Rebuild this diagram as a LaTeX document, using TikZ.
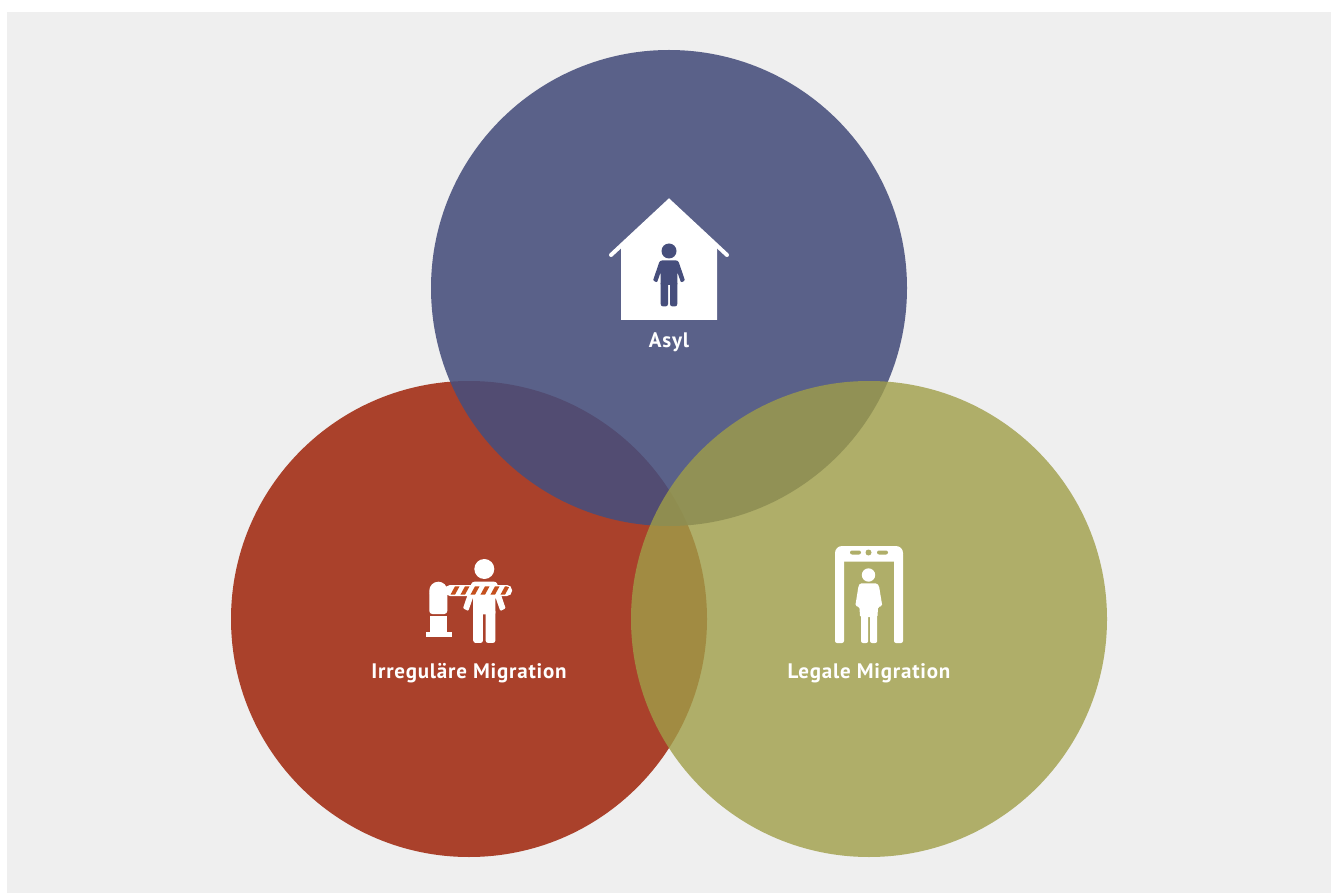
\documentclass[tikz,border=0pt]{standalone}
\usepackage{fontspec}
\setmainfont{PT Sans}[LetterSpace=3.8]
\definecolor{pagegray}{HTML}{EFEFEF}
\definecolor{asylblue}{HTML}{464E7C}
\definecolor{irregred}{HTML}{AA412B}
\definecolor{legalolive}{HTML}{9F9E48}
\definecolor{gatehole}{HTML}{AFAE69}
\definecolor{beamstripe}{HTML}{C44F1D}
\tikzset{
    circlelabel/.style = {text = white, inner sep = 0pt, anchor = base, font = \fontsize{21}{24}\selectfont\bfseries},
    personicon/.pic = {
        \fill (0,0) circle [radius = 7.5];
        \fill [rounded corners = 1pt] (-8,9.5) -- (8,9.5) -- (9.5,10.5) -- (16,29.5) -- (12,31.5) -- (8.3,21)
            -- (8.3,34) -- (-8.3,34) -- (-8.3,21) -- (-12,31.5) -- (-16,29.5) -- (-9.5,10.5) -- cycle;
        \fill [rounded corners = 2.5pt] (-8.3,30) -- (-1,30) -- (-1,55.5) -- (-8.3,55.5) -- cycle;
        \fill [rounded corners = 2.5pt] (1,30) -- (8.3,30) -- (8.3,55.5) -- (1,55.5) -- cycle;
    }
}

\begin{document}
\begin{tikzpicture}[x = 1pt, y = -1pt]
        \useasboundingbox (0,0) rectangle (1334,893);
        \fill [pagegray] (7,12) rectangle (1331,893);
        \fill [irregred] (469,619) circle [radius = 238];
        \fill [asylblue, fill opacity = 0.88] (669,288) circle [radius = 238];
        \fill [legalolive, fill opacity = 0.8] (869,619) circle [radius = 238];

        % house
        \fill [white] (621,245) -- (669,201) -- (717,245) -- (717,320) -- (621,320) -- cycle;
        \draw [white, line width = 4pt, line cap = round] (611,255) -- (669,201) -- (727,255);
        \pic [fill = asylblue] at (669,251) {personicon};
        \node [circlelabel] (asyl) at (669,347.5) {Asyl};

        % barrier
        \pic [fill = white, scale = 1.333] at (484.3,569) {personicon};
        \fill [white, rounded corners = 9pt] (429.3,600) -- (429.3,581.7) -- (447.3,581.7) -- (447.3,600) -- cycle;
        \fill [white, rounded corners = 3pt] (429.3,590) -- (447.3,590) -- (447.3,614) -- (429.3,614) -- cycle;
        \fill [white] (429.5,615.5) rectangle (447,632);
        \fill [white] (426,632) rectangle (452,637);
        \fill [white, rounded corners = 5pt] (445,585) rectangle (512,596);
        \begin{scope}
            \clip [rounded corners = 4pt] (447,586.3) rectangle (510.5,594.7);
            \foreach \stripex in {455,465,...,515} {
                \draw [beamstripe, line width = 4pt] (\stripex-3,596) -- (\stripex+3,585);
            }
        \end{scope}
        \node [circlelabel] (irregulaer) at (469,678.3) {Irreguläre Migration};

        % gate
        \fill [white, rounded corners = 7pt] (835,561.5) -- (835,546) -- (903,546) -- (903,561.5) -- cycle;
        \fill [white, rounded corners = 2pt] (835,553) rectangle (844,643);
        \fill [white, rounded corners = 2pt] (894,553) rectangle (903,643);
        \fill [gatehole, rounded corners = 2pt] (850,550.5) rectangle (861,554.5);
        \fill [gatehole, rounded corners = 2pt] (877,550.5) rectangle (888,554.5);
        \fill [gatehole] (868.5,552.5) circle [radius = 3];
        \fill [white] (868.5,575) circle [radius = 6.7];
        \fill [white, rounded corners = 1.5pt] (860,583.3) -- (877,583.3) -- (879,586) -- (882.3,606) -- (878,607)
            -- (877.5,617) -- (860,617) -- (859.5,607) -- (855.3,606) -- (858.5,586) -- cycle;
        \fill [white, rounded corners = 2pt] (861,612) -- (868.2,612) -- (868.2,643) -- (861,643) -- cycle;
        \fill [white, rounded corners = 2pt] (870,612) -- (877.2,612) -- (877.2,643) -- (870,643) -- cycle;
        \node [circlelabel] (legale) at (869,678.3) {Legale Migration};
    \end{tikzpicture}
\end{document}
